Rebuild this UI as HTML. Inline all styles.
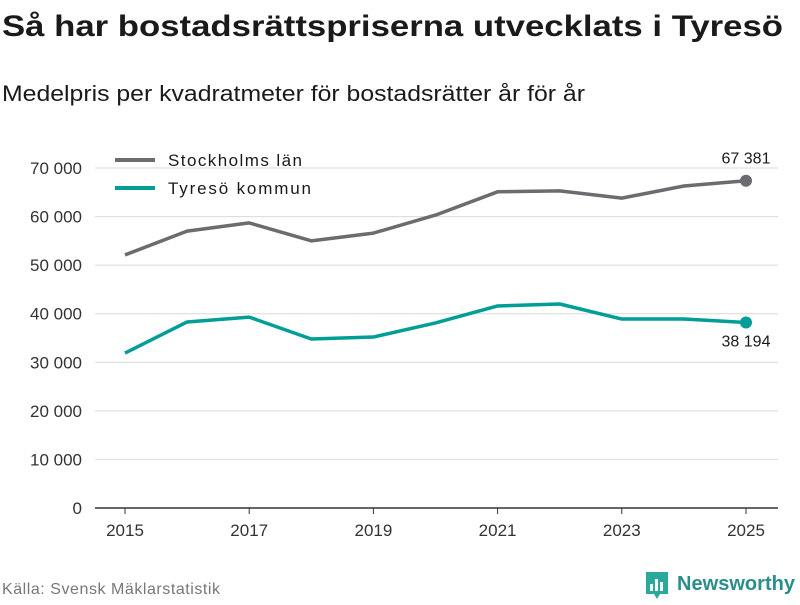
<!DOCTYPE html>
<html><head><meta charset="utf-8"><style>
body{margin:0;width:800px;height:600px;background:#fff;font-family:"Liberation Sans",sans-serif;overflow:hidden}
</style></head><body>
<svg width="800" height="600" font-family="Liberation Sans, sans-serif">
<text x="2" y="36" font-size="30" font-weight="bold" fill="#1a1a1a" textLength="781" lengthAdjust="spacingAndGlyphs">Så har bostadsrättspriserna utvecklats i Tyresö</text>
<text x="2" y="101" font-size="22" fill="#1a1a1a" textLength="583" lengthAdjust="spacingAndGlyphs">Medelpris per kvadratmeter för bostadsrätter år för år</text>
<g id="grid"></g><g id="xaxis"></g><g id="lines"></g>
<g>
<line x1="115" y1="160" x2="155" y2="160" stroke="#6d6b70" stroke-width="4"/>
<text x="168" y="166" font-size="17" fill="#1a1a1a" textLength="134">Stockholms län</text>
<line x1="115" y1="188" x2="155" y2="188" stroke="#009e96" stroke-width="4"/>
<text x="168" y="194" font-size="17" fill="#1a1a1a" textLength="143">Tyresö kommun</text>
</g>
<text x="2" y="594" font-size="16" fill="#777" textLength="218">Källa: Svensk Mäklarstatistik</text>
<g>
<path d="M646 572h22v22h-8l-3 5-3-5h-8z" fill="#2aa89a"/>
<rect x="650" y="584" width="3" height="7" fill="#fff"/><rect x="655" y="579" width="3" height="12" fill="#fff"/><rect x="660" y="582" width="3" height="9" fill="#fff"/>
<text x="677" y="590" font-size="20" font-weight="bold" fill="#2a8f8a" textLength="118">Newsworthy</text>
</g>
</svg>
<script>
const years=[2015,2016,2017,2018,2019,2020,2021,2022,2023,2024,2025];
const stockholm=[52100,57000,58700,55000,56600,60300,65100,65300,63800,66300,67381];
const tyreso=[31900,38300,39300,34800,35200,38100,41600,42000,38900,38900,38194];
const yTicks=[0,10000,20000,30000,40000,50000,60000,70000];
const xTicks=[2015,2017,2019,2021,2023,2025];
const NS='http://www.w3.org/2000/svg';
const X=y=>125+(y-2015)*62.1;
const Y=v=>508-v*340/70000;
const fmt=v=>v===0?'0':String(v).replace(/\B(?=(\d{3})+(?!\d))/g,'\u00a0');
function mk(t,a,p){const e=document.createElementNS(NS,t);for(const k in a)e.setAttribute(k,a[k]);p.appendChild(e);return e;}
const grid=document.getElementById('grid');
yTicks.forEach(v=>{
 const l=mk('line',{x1:95,x2:778,y1:Y(v),y2:Y(v),stroke:v===0?'#333':'#d9d9d9','stroke-width':v===0?1.5:1},grid);
 
 
 const t=mk('text',{x:82,y:Y(v)+6,'text-anchor':'end','font-size':17,fill:'#333'},grid);t.textContent=fmt(v);
 
 
});
const xa=document.getElementById('xaxis');
xTicks.forEach(y=>{
 const l=mk('line',{x1:X(y),x2:X(y),y1:508,y2:514,stroke:'#333'},xa);
 
 
 const t=mk('text',{x:X(y),y:536,'text-anchor':'middle','font-size':17,fill:'#333'},xa);t.textContent=y;
 
 
});
const lg=document.getElementById('lines');
function series(vals,col,name,labelDy){
 const p=mk('polyline',{points:vals.map((v,i)=>X(years[i])+','+Y(v)).join(' '),fill:'none',stroke:col,'stroke-width':3.5,'stroke-linejoin':'round'},lg);
 
 
 const n=vals.length-1;
 const c=mk('circle',{cx:X(years[n]),cy:Y(vals[n]),r:6,fill:col},lg);
 
 
 const t=mk('text',{x:X(years[n]),y:Y(vals[n])+labelDy,'text-anchor':'middle','font-size':16,fill:'#1a1a1a'},lg);t.textContent=fmt(vals[n]);
 
 
}
series(stockholm,'#6d6b70','stockholm',-17);
series(tyreso,'#009e96','tyreso',24);
</script>
</body></html>
